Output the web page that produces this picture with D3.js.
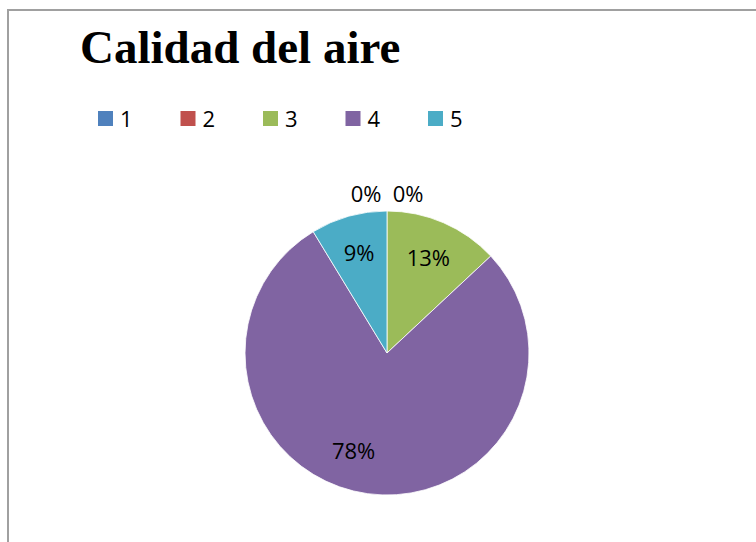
<!DOCTYPE html>
<html>
<head>
<meta charset="utf-8">
<script src="https://cdn.jsdelivr.net/npm/d3@7"></script>
<style>
  body { margin: 0; background: #fff; }
  svg { display: block; }
</style>
</head>
<body>
<svg></svg>
<script>
var categories = ["1", "2", "3", "4", "5"];
var values = [0, 0, 3, 18, 2];
var colors = ["#4F81BD", "#C0504D", "#9BBB59", "#8064A2", "#4BACC6"];
var title = "Calidad del aire";

var width = 756;
var height = 542;
var cx = 387, cy = 353, radius = 142;

var svg = d3.select("svg")
    .attr("width", width)
    .attr("height", height);

// chart frame
svg.append("rect")
    .attr("x", 8).attr("y", 10)
    .attr("width", width + 20).attr("height", height + 20)
    .attr("fill", "none")
    .attr("stroke", "#a0a0a0")
    .attr("stroke-width", 2);

svg.append("text")
    .attr("x", 80).attr("y", 63)
    .attr("font-family", "Liberation Serif, serif")
    .attr("font-weight", "bold")
    .attr("font-size", 47)
    .text(title);

// legend
var legend = svg.selectAll(".legend")
    .data(categories)
    .enter().append("g")
    .attr("class", "legend")
    .attr("transform", function(d, i) { return "translate(" + (98 + i * 82.5) + ",111)"; });

legend.append("rect")
    .attr("width", 15).attr("height", 15)
    .attr("fill", function(d, i) { return colors[i]; });

legend.append("text")
    .attr("x", 22).attr("y", 16)
    .attr("font-family", "Open Sans, sans-serif")
    .attr("font-size", 22)
    .text(function(d) { return d; });

var total = d3.sum(values);
var pie = d3.pie().sort(null).value(function(d) { return d; });
var arcs = pie(values);
var arc = d3.arc().innerRadius(0).outerRadius(radius);

var g = svg.append("g").attr("transform", "translate(" + cx + "," + cy + ")");

g.selectAll("path")
    .data(arcs)
    .enter().append("path")
    .attr("d", arc)
    .attr("fill", function(d, i) { return colors[i]; })
    .attr("stroke", "#fff")
    .attr("stroke-width", 0.8);

// labels: inside for real slices, outside top for empty ones
var labelShift = [0, 0, 0, 11, 0]; // degrees, Excel best-fit nudge
var zeroCount = 0;
g.selectAll(".lbl")
    .data(arcs)
    .enter().append("text")
    .attr("class", "lbl")
    .attr("font-family", "Open Sans, sans-serif")
    .attr("font-size", 22)
    .attr("text-anchor", "middle")
    .attr("dy", "0.35em")
    .attr("transform", function(d, i) {
      if (d.value === 0) {
        var x = (zeroCount++ === 0) ? -21 : 21;
        return "translate(" + x + "," + (-radius - 17) + ")";
      }
      var a = (d.startAngle + d.endAngle) / 2 + labelShift[i] * Math.PI / 180;
      var r = radius * 0.73;
      return "translate(" + (Math.sin(a) * r) + "," + (-Math.cos(a) * r) + ")";
    })
    .text(function(d) { return Math.round(d.value / total * 100) + "%"; });
</script>
</body>
</html>
